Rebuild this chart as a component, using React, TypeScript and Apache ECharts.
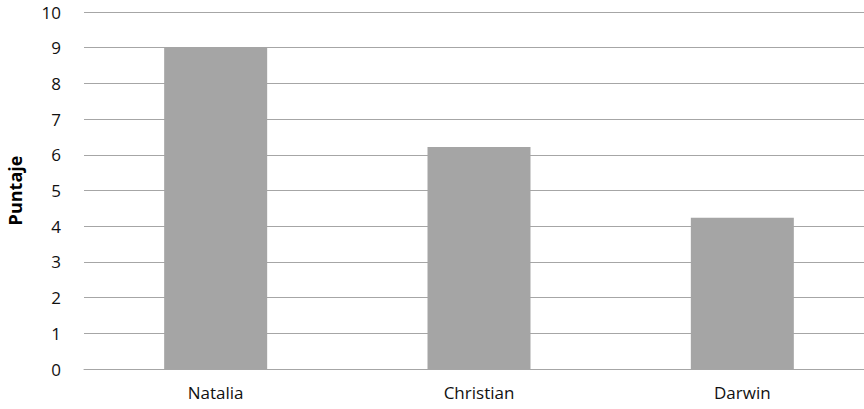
import React, { useEffect, useRef } from "react";
import * as echarts from "echarts";

const categories = ["Natalia", "Christian", "Darwin"];
const scores = [9, 6.22, 4.24];
const yMin = 0;
const yMax = 10;
const yInterval = 1;

export default function App() {
  const ref = useRef<HTMLDivElement>(null);
  useEffect(() => {
    document.body.style.margin = "0";
    document.body.style.overflow = "hidden";
    const chart = echarts.init(ref.current!, null, { renderer: "svg" });
    chart.setOption({
      animation: false,
      backgroundColor: "#ffffff",
      grid: {
        left: 84,
        right: -10,
        top: 12,
        bottom: 40,
        containLabel: false,
        outerBoundsMode: "none",
      },
      xAxis: {
        type: "category",
        data: categories,
        axisTick: { show: false },
        axisLine: { show: true, lineStyle: { color: "#a6a6a6", width: 1 } },
        axisLabel: {
          color: "#111111",
          fontSize: 17,
          fontFamily: "Open Sans",
          margin: 15,
        },
      },
      yAxis: {
        type: "value",
        min: yMin,
        max: yMax,
        interval: yInterval,
        name: "Puntaje",
        nameLocation: "middle",
        nameRotate: 90,
        nameGap: 60,
        nameTextStyle: {
          color: "#000000",
          fontSize: 18,
          fontWeight: "bold",
          fontFamily: "Open Sans",
        },
        axisLine: { show: false },
        axisTick: { show: false },
        axisLabel: {
          color: "#111111",
          fontSize: 17,
          fontFamily: "Open Sans",
          margin: 23,
        },
        splitLine: { lineStyle: { color: "#a6a6a6", width: 1 } },
      },
      series: [
        {
          type: "bar",
          data: scores,
          barWidth: 103,
          itemStyle: { color: "#a5a5a5" },
        },
      ],
    });
    return () => chart.dispose();
  }, []);
  return (
    <div
      ref={ref}
      style={{ position: "absolute", left: 0, top: 0, width: 864, height: 409 }}
    />
  );
}
